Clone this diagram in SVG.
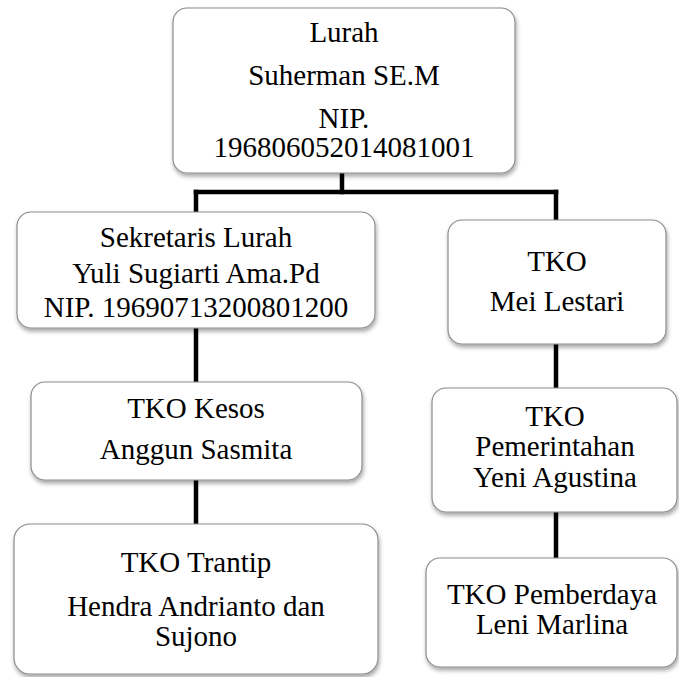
<svg xmlns="http://www.w3.org/2000/svg" width="679" height="677" viewBox="0 0 679 677">
<style>
.box{fill:#ffffff;stroke:#8c8c8c;stroke-width:1.2;filter:url(#sh)}
text{font-family:'Liberation Serif','DejaVu Serif',serif;font-size:29px;fill:#000;text-anchor:middle}
.c{fill:none;stroke:#000;stroke-width:4.5;stroke-linecap:square}
</style>
<defs>
<filter id="sh" x="-10%" y="-10%" width="120%" height="130%">
<feDropShadow dx="1" dy="3" stdDeviation="2" flood-color="#000" flood-opacity="0.35"/>
</filter>
</defs>
<g id="connectors">
<path class="c" d="M342,174 V192"/>
<path class="c" d="M196,192 H556"/>
<path class="c" d="M196,192 V211"/>
<path class="c" d="M556,192 V219"/>
<path class="c" d="M196,329 V381"/>
<path class="c" d="M196,481 V523"/>
<path class="c" d="M556,345 V387"/>
<path class="c" d="M556,513 V557"/>
</g>
<g font-family="Liberation Serif, DejaVu Serif, serif">
<g id="lurah">
<rect class="box" x="173" y="8" width="342" height="165" rx="14"/>
<text x="344" y="42">Lurah</text>
<text x="344" y="85">Suherman SE.M</text>
<text x="344" y="128">NIP.</text>
<text x="344" y="157">196806052014081001</text>
</g>
<g id="sekretaris">
<rect class="box" x="17" y="212" width="358" height="116" rx="14"/>
<text x="196" y="247">Sekretaris Lurah</text>
<text x="196" y="283">Yuli Sugiarti Ama.Pd</text>
<text x="196" y="317">NIP. 19690713200801200</text>
</g>
<g id="tko-mei">
<rect class="box" x="448" y="220" width="218" height="124" rx="14"/>
<text x="557" y="271">TKO</text>
<text x="557" y="311">Mei Lestari</text>
</g>
<g id="tko-kesos">
<rect class="box" x="31" y="382" width="331" height="98" rx="14"/>
<text x="196" y="418">TKO Kesos</text>
<text x="196" y="459">Anggun Sasmita</text>
</g>
<g id="tko-trantip">
<rect class="box" x="14" y="524" width="364" height="150" rx="16"/>
<text x="196" y="572">TKO Trantip</text>
<text x="196" y="616">Hendra Andrianto dan</text>
<text x="196" y="646">Sujono</text>
</g>
<g id="tko-pemerintahan">
<rect class="box" x="432" y="388" width="245" height="124" rx="14"/>
<text x="555" y="426">TKO</text>
<text x="555" y="456">Pemerintahan</text>
<text x="555" y="487">Yeni Agustina</text>
</g>
<g id="tko-pemberdaya">
<rect class="box" x="426" y="558" width="251" height="109" rx="14"/>
<text x="552" y="604">TKO Pemberdaya</text>
<text x="552" y="634">Leni Marlina</text>
</g>
</g>
</svg>
